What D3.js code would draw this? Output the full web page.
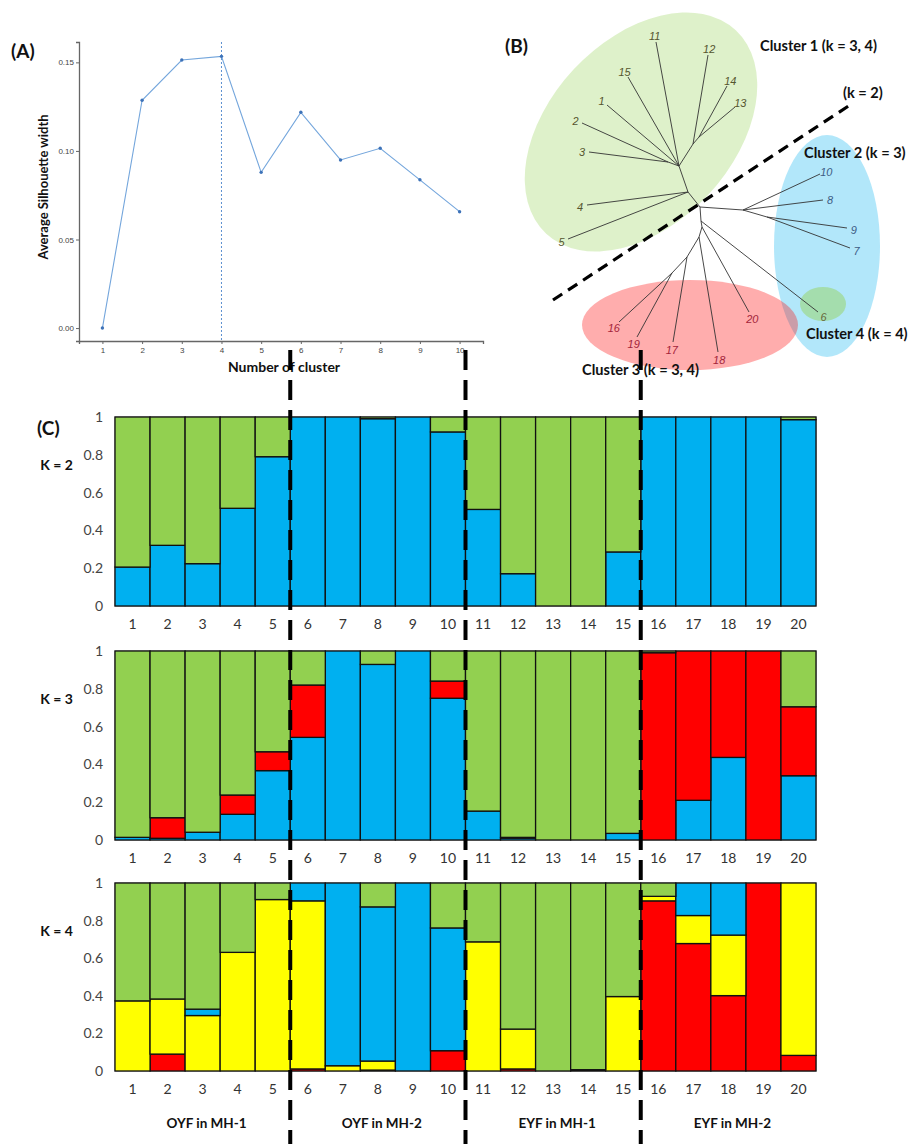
<!DOCTYPE html>
<html>
<head>
<meta charset="utf-8">
<script src="https://cdn.jsdelivr.net/npm/d3@7"></script>
<style>
  body { margin: 0; background: #fff; }
  text { font-family: Lato, "Open Sans", sans-serif; }
</style>
</head>
<body>
<div id="canvas"></div>
<script>
/* DATA */
const silK = [1, 2, 3, 4, 5, 6, 7, 8, 9, 10];
const silWidth = [0, 0.1286, 0.1513, 0.1534, 0.0879, 0.1218, 0.0949, 0.1015, 0.0837, 0.0657];
const silTicks = [0, 0.05, 0.10, 0.15];
const bestK = 4;

// tree (B): node positions in tree units, root at 0,0
const treeNodes = [
  { id: "r", x: 0, y: 0 }, { id: "a", x: -12, y: -15 }, { id: "b", x: -21, y: -41 },
  { id: "c", x: -32, y: -45 }, { id: "d", x: -7, y: -63 }, { id: "d2", x: -1, y: -70 },
  { id: "e", x: 43, y: 3 }, { id: "e2", x: 67, y: 10 }, { id: "f", x: 1, y: 14 },
  { id: "g", x: 2, y: 20 }, { id: "h", x: -1, y: 30 }, { id: "i", x: -13, y: 50 },
  { id: "j", x: -28, y: 66 },
  { id: "11", x: -44, y: -165, leaf: 1 }, { id: "12", x: 8, y: -152, leaf: 1 },
  { id: "15", x: -72, y: -130, leaf: 1 }, { id: "14", x: 27, y: -121, leaf: 1 },
  { id: "13", x: 35, y: -100, leaf: 1 }, { id: "1", x: -93, y: -102, leaf: 1 },
  { id: "2", x: -118, y: -84, leaf: 1 }, { id: "3", x: -111, y: -55, leaf: 1 },
  { id: "4", x: -113, y: -2, leaf: 1 }, { id: "5", x: -132, y: 32, leaf: 1 },
  { id: "10", x: 120, y: -33, leaf: 2 }, { id: "8", x: 123, y: -7, leaf: 2 },
  { id: "9", x: 147, y: 21, leaf: 2 }, { id: "7", x: 150, y: 41, leaf: 2 },
  { id: "6", x: 118, y: 105, leaf: 4 }, { id: "20", x: 49, y: 105, leaf: 3 },
  { id: "18", x: 18, y: 145, leaf: 3 }, { id: "17", x: -27, y: 135, leaf: 3 },
  { id: "16", x: -81, y: 115, leaf: 3 }, { id: "19", x: -63, y: 130, leaf: 3 }
];
const treeEdges = [
  ["r","a"],["a","b"],["b","c"],["c","2"],["c","3"],["b","1"],["b","15"],["b","11"],
  ["b","d"],["d","12"],["d","d2"],["d2","14"],["d2","13"],["a","4"],["a","5"],
  ["r","e"],["e","10"],["e","8"],["e","e2"],["e2","9"],["e2","7"],
  ["r","f"],["f","6"],["f","g"],["g","20"],["g","h"],["h","18"],["h","i"],
  ["i","17"],["i","j"],["j","16"],["j","19"]
];

// admixture (C)
const samples = d3.range(1, 21);
const groups = ["OYF in MH-1", "OYF in MH-2", "EYF in MH-1", "EYF in MH-2"];
const yTicksC = [0, 0.2, 0.4, 0.6, 0.8, 1];

const k2Blue  = [0.206,0.321,0.224,0.517,0.790,1,1,0.991,1,0.921,0.511,0.171,0,0,0.286,1,1,1,1,0.986];
const k2Green = [0.794,0.679,0.776,0.483,0.210,0,0,0.009,0,0.079,0.489,0.829,1,1,0.714,0,0,0,0,0.014];

const k3Blue  = [0.014,0.009,0.041,0.136,0.367,0.543,1,0.929,1,0.750,0.153,0.010,0,0,0.035,0,0.210,0.437,0,0.340];
const k3Red   = [0,0.109,0,0.102,0.100,0.277,0,0,0,0.091,0,0.004,0,0,0,0.991,0.790,0.563,1,0.365];
const k3Green = [0.986,0.882,0.959,0.762,0.533,0.180,0,0.071,0,0.159,0.847,0.986,1,1,0.965,0.009,0,0,0,0.295];

const k4Red    = [0,0.090,0,0,0,0.011,0,0.005,0,0.108,0,0.011,0,0,0,0.905,0.678,0.401,1,0.083];
const k4Yellow = [0.373,0.293,0.295,0.631,0.912,0.894,0.028,0.048,0,0,0.687,0.212,0,0.007,0.396,0.024,0.149,0.322,0,0.917];
const k4Blue   = [0,0,0.034,0,0,0.095,0.972,0.820,1,0.653,0,0,0,0,0,0,0.173,0.277,0,0];
const k4Green  = [0.627,0.617,0.671,0.369,0.088,0,0,0.127,0,0.239,0.313,0.777,1,0.993,0.604,0.071,0,0,0,0];

const colors = { green: "#92D050", blue: "#00B0F0", red: "#FF0000", yellow: "#FFFF00" };

/* CANVAS */
const width = 922, height = 1144;
const svg = d3.select("#canvas").append("svg")
  .attr("width", width).attr("height", height)
  .style("background", "#fff");

/* PANEL A */
const xA = d3.scaleLinear().domain([0.41, 10.59]).range([79, 483]);
const yA = d3.scaleLinear().domain([-0.0073, 0.1615]).range([341, 42]);
const gA = svg.append("g");

gA.append("line").attr("x1", xA(bestK)).attr("x2", xA(bestK))
  .attr("y1", 42).attr("y2", 341)
  .attr("stroke", "#5b8fd0").attr("stroke-width", 1).attr("stroke-dasharray", "2,2");

const axA = gA.append("g").attr("transform", "translate(0,341)")
  .call(d3.axisBottom(xA).tickValues(silK).tickSize(3).tickPadding(3));
const ayA = gA.append("g").attr("transform", "translate(79,0)")
  .call(d3.axisLeft(yA).tickValues(silTicks).tickFormat(d3.format(".2f")).tickSize(3).tickPadding(2));
[axA, ayA].forEach(a => {
  a.select(".domain").attr("stroke", "#666").attr("stroke-width", 1.3);
  a.selectAll(".tick line").attr("stroke", "#666");
  a.selectAll(".tick text").attr("fill", "#444").style("font-family", "Liberation Sans, Arial")
    .style("font-size", "8px");
});

gA.append("path").datum(silK.map((k, i) => [k, silWidth[i]]))
  .attr("fill", "none").attr("stroke", "#74a6dc").attr("stroke-width", 1.1)
  .attr("d", d3.line().x(d => xA(d[0])).y(d => yA(d[1])));
gA.selectAll("circle.pt").data(silK).enter().append("circle")
  .attr("cx", k => xA(k)).attr("cy", (k, i) => yA(silWidth[i])).attr("r", 1.7)
  .attr("fill", "#3d72b8");

gA.append("text").attr("x", 284).attr("y", 372).attr("text-anchor", "middle")
  .style("font-weight", "bold").style("font-size", "14px").attr("fill", "#111")
  .text("Number of cluster");
gA.append("text").attr("transform", "translate(48,187) rotate(-90)").attr("text-anchor", "middle")
  .style("font-weight", "bold").style("font-size", "13px").attr("fill", "#111")
  .text("Average Silhouette width");
svg.append("text").attr("x", 11).attr("y", 58).style("font-weight", "bold")
  .style("font-size", "19px").attr("fill", "#111").text("(A)");

/* PANEL B */
const gB = svg.append("g");
const xB = d3.scaleLinear().domain([0, 100]).range([700, 800]);
const yB = d3.scaleLinear().domain([0, 100]).range([207, 307]);

gB.append("ellipse").attr("cx", 641).attr("cy", 132).attr("rx", 139).attr("ry", 92)
  .attr("transform", "rotate(-47,641,132)").attr("fill", colors.green).attr("fill-opacity", 0.3);
gB.append("ellipse").attr("cx", 827).attr("cy", 246).attr("rx", 53).attr("ry", 111)
  .attr("fill", colors.blue).attr("fill-opacity", 0.3);
gB.append("ellipse").attr("cx", 690).attr("cy", 325).attr("rx", 108).attr("ry", 45)
  .attr("fill", colors.red).attr("fill-opacity", 0.32);
gB.append("ellipse").attr("cx", 823).attr("cy", 304).attr("rx", 23).attr("ry", 17)
  .attr("fill", colors.green).attr("fill-opacity", 0.45);

const nodeById = new Map(treeNodes.map(n => [n.id, n]));
gB.selectAll("line.edge").data(treeEdges).enter().append("line")
  .attr("x1", e => xB(nodeById.get(e[0]).x)).attr("y1", e => yB(nodeById.get(e[0]).y))
  .attr("x2", e => xB(nodeById.get(e[1]).x)).attr("y2", e => yB(nodeById.get(e[1]).y))
  .attr("stroke", "#333").attr("stroke-width", 0.9);

const leafColor = { 1: "#55552e", 2: "#3d5c85", 3: "#a3243a", 4: "#66663a" };
const parentOf = new Map(treeEdges.map(e => [e[1], e[0]]));
gB.selectAll("text.leaf").data(treeNodes.filter(n => n.leaf)).enter().append("text")
  .each(function(n) {
    const p = nodeById.get(parentOf.get(n.id));
    const dx = n.x - p.x, dy = n.y - p.y, len = Math.hypot(dx, dy);
    d3.select(this).attr("x", xB(n.x + dx / len * 7)).attr("y", yB(n.y + dy / len * 7) + 2);
  })
  .attr("text-anchor", "middle").attr("dominant-baseline", "middle")
  .style("font-family", "Liberation Sans, Arial").style("font-style", "italic").style("font-size", "11px")
  .attr("fill", n => leafColor[n.leaf]).text(n => n.id);

gB.append("line").attr("x1", 553).attr("y1", 300).attr("x2", 850).attr("y2", 105)
  .attr("stroke", "#000").attr("stroke-width", 3.2).attr("stroke-dasharray", "11,7");

const bLabels = [
  ["Cluster 1 (k = 3, 4)", 760, 51], ["(k = 2)", 843, 98], ["Cluster 2 (k = 3)", 804, 158],
  ["Cluster 4 (k = 4)", 806, 339], ["Cluster 3 (k = 3, 4)", 582, 375]
];
gB.selectAll("text.cl").data(bLabels).enter().append("text")
  .attr("x", d => d[1]).attr("y", d => d[2]).style("font-weight", "bold").style("font-size", "14.6px")
  .attr("fill", "#111").text(d => d[0]);
svg.append("text").attr("x", 505).attr("y", 53).style("font-weight", "bold")
  .style("font-size", "19px").attr("fill", "#111").text("(B)");

/* PANEL C */
const xC = d3.scaleBand().domain(samples).range([115, 816]).padding(0);
const panels = [
  { label: "K = 2", top: 417, bottom: 606, keys: ["blue", "green"], series: { blue: k2Blue, green: k2Green } },
  { label: "K = 3", top: 651, bottom: 840, keys: ["blue", "red", "green"], series: { blue: k3Blue, red: k3Red, green: k3Green } },
  { label: "K = 4", top: 883, bottom: 1071, keys: ["red", "yellow", "blue", "green"],
    series: { red: k4Red, yellow: k4Yellow, blue: k4Blue, green: k4Green } }
];

panels.forEach(p => {
  const g = svg.append("g");
  const y = d3.scaleLinear().domain([0, 1]).range([p.bottom, p.top]);
  const rows = samples.map((s, i) => {
    const r = { sample: s };
    p.keys.forEach(k => r[k] = p.series[k][i]);
    return r;
  });
  const stacked = d3.stack().keys(p.keys)(rows);

  g.append("rect").attr("x", 115).attr("y", p.top).attr("width", 701).attr("height", p.bottom - p.top)
    .attr("fill", "none").attr("stroke", "#777").attr("stroke-width", 1);

  stacked.forEach(layer => {
    g.selectAll(null).data(layer.filter(d => d[1] - d[0] > 0.0005)).enter().append("rect")
      .attr("x", d => xC(d.data.sample)).attr("width", xC.bandwidth())
      .attr("y", d => y(Math.min(d[1], 1))).attr("height", d => y(d[0]) - y(Math.min(d[1], 1)))
      .attr("fill", colors[layer.key]).attr("stroke", "#111").attr("stroke-width", 1.3);
  });

  const ay = g.append("g").attr("transform", "translate(103,0)")
    .call(d3.axisLeft(y).tickValues(yTicksC).tickFormat(d => d).tickSize(0).tickPadding(0));
  ay.select(".domain").remove();
  ay.selectAll(".tick text").attr("fill", "#444").style("font-size", "14px");

  const ax = g.append("g").attr("transform", `translate(0,${p.bottom})`)
    .call(d3.axisBottom(xC).tickSize(0).tickPadding(13));
  ax.select(".domain").remove();
  ax.selectAll(".tick text").attr("fill", "#333").style("font-size", "14px");

  g.append("text").attr("x", 73).attr("y", (p.top + p.bottom) / 2 - 45).attr("text-anchor", "end")
    .attr("dominant-baseline", "middle").style("font-weight", "bold").style("font-size", "14px")
    .attr("fill", "#111").text(p.label);
});

svg.append("text").attr("x", 37).attr("y", 435).style("font-weight", "bold")
  .style("font-size", "19px").attr("fill", "#111").text("(C)");

svg.selectAll("text.grp").data(groups).enter().append("text")
  .attr("x", (d, i) => (xC(i * 5 + 1) + xC(i * 5 + 5) + xC.bandwidth()) / 2 + 4)
  .attr("y", 1128).attr("text-anchor", "middle")
  .style("font-weight", "bold").style("font-size", "13.5px").attr("fill", "#111").text(d => d);

// dashed separators between groups
svg.selectAll("line.sep").data([6, 11, 16]).enter().append("line")
  .attr("x1", d => xC(d)).attr("x2", d => xC(d)).attr("y1", 350).attr("y2", 1144)
  .attr("stroke", "#000").attr("stroke-width", 4).attr("stroke-dasharray", "20,10");
</script>
</body>
</html>
